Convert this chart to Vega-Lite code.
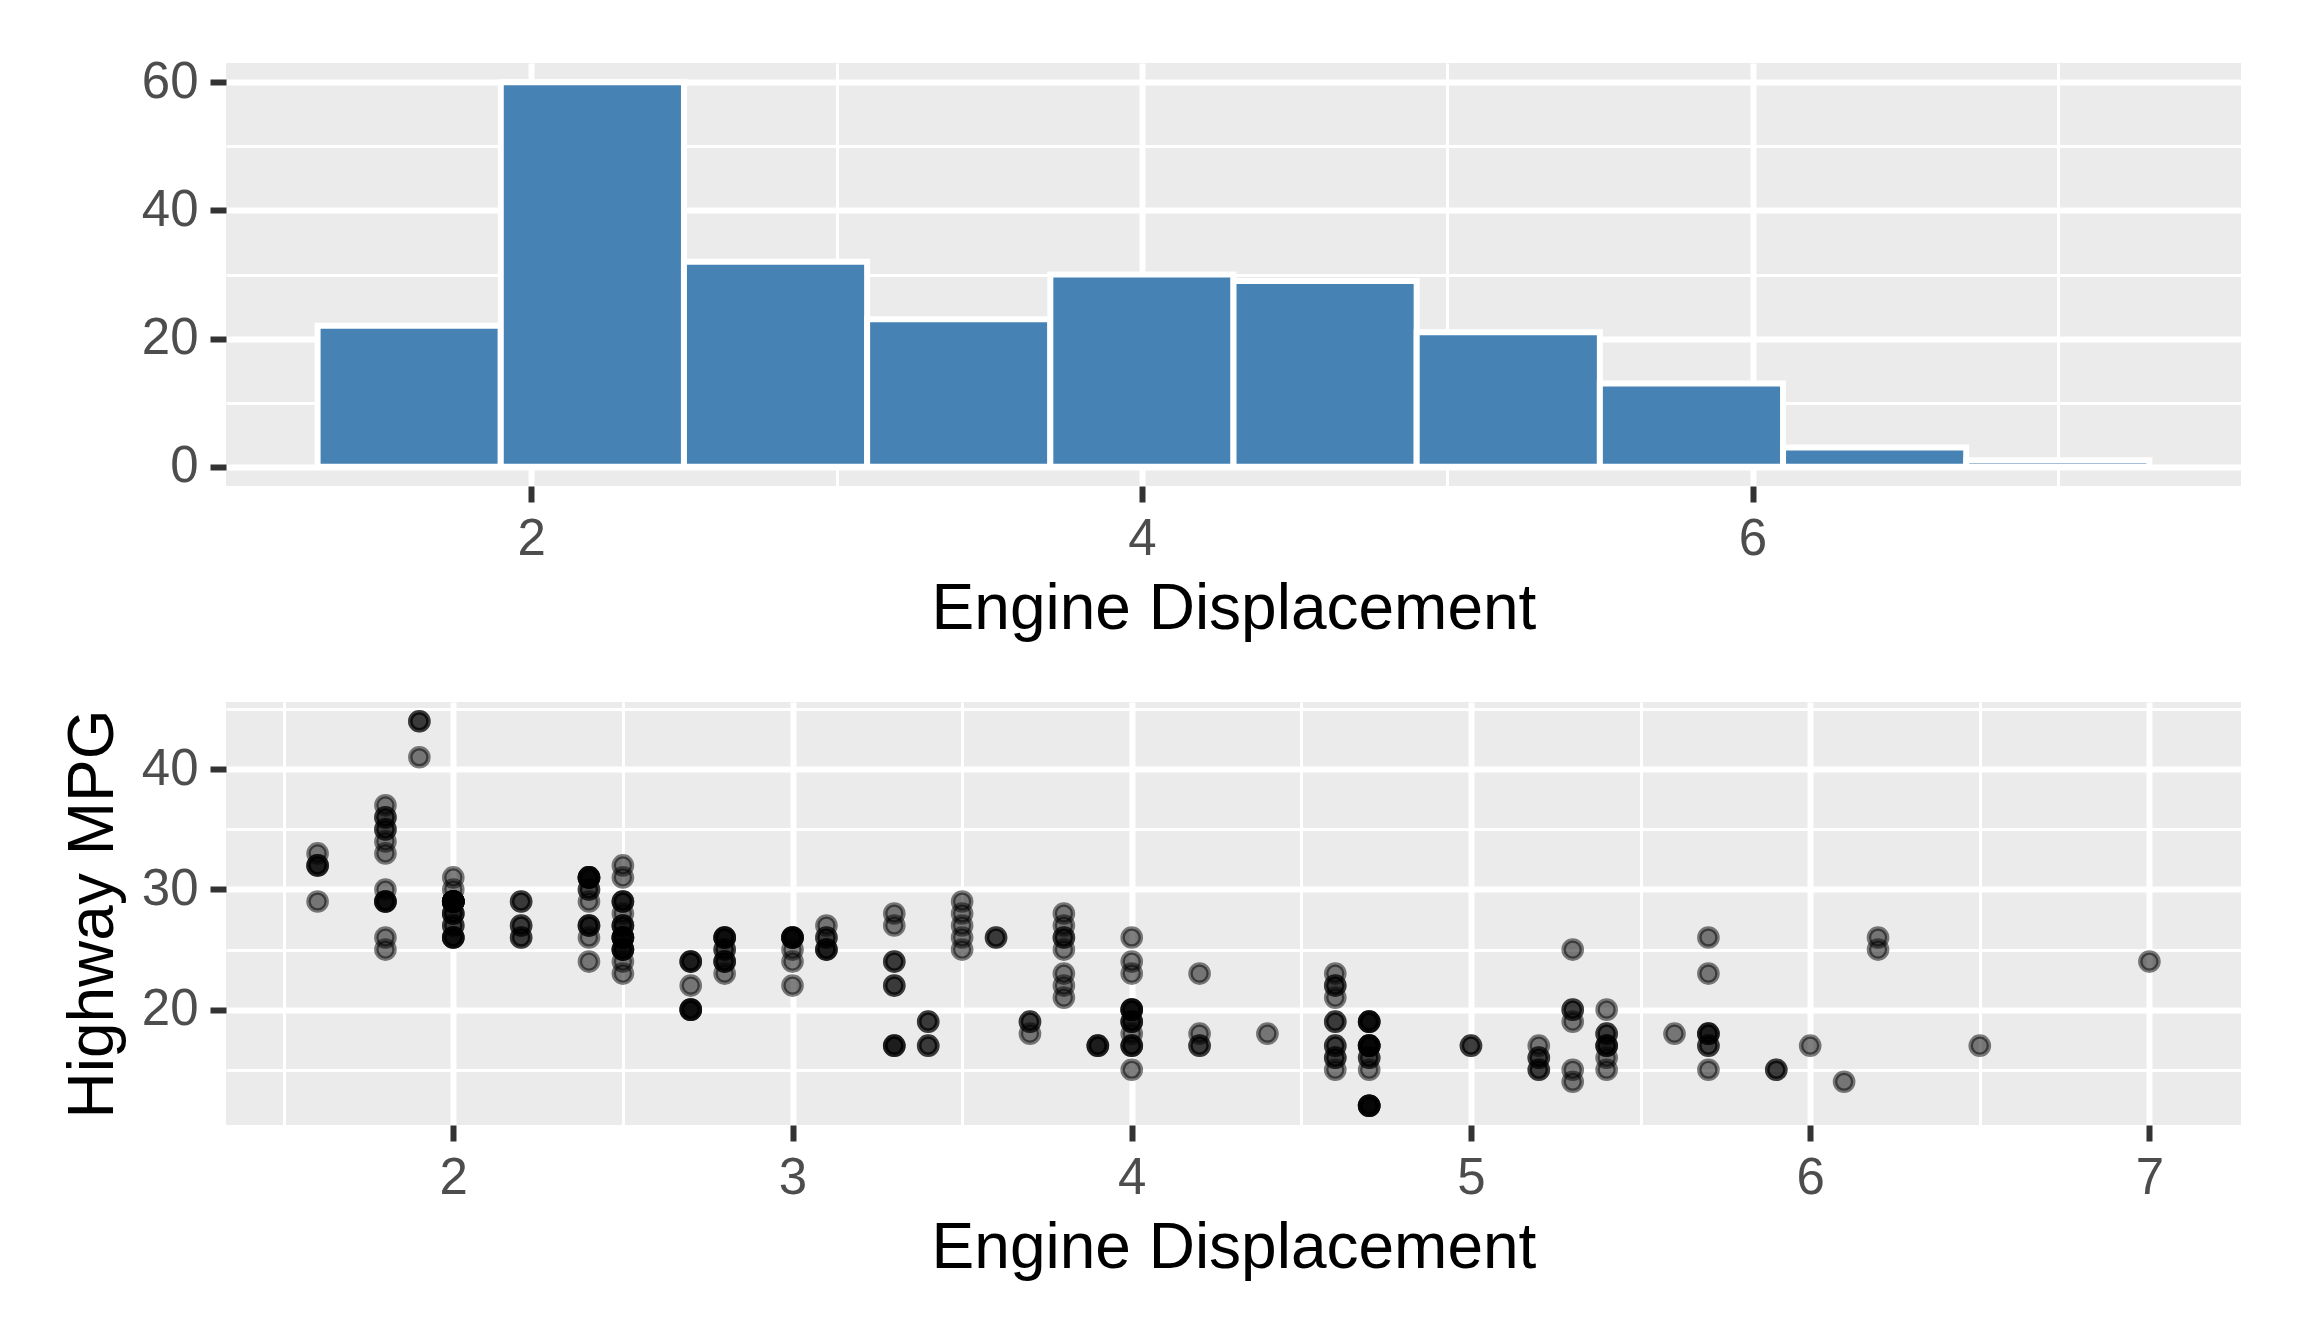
{
  "$schema": "https://vega.github.io/schema/vega-lite/v6.json",
  "background": "white",
  "padding": {"left": 61, "top": 56, "right": 64, "bottom": 64},
  "spacing": 42,
  "config": {
    "view": {"fill": "#EBEBEB", "stroke": null},
    "font": "Liberation Sans",
    "axis": {
      "domain": false,
      "labelFont": "Liberation Sans",
      "labelFontSize": 51,
      "labelColor": "#4D4D4D",
      "labelPadding": 12,
      "labelFlush": false,
      "labelOverlap": false,
      "titleFont": "Liberation Sans",
      "titleFontSize": 64,
      "titleFontWeight": "normal",
      "titleColor": "#000000",
      "tickSize": 16,
      "tickWidth": 6,
      "tickColor": "#333333",
      "gridColor": "#FFFFFF",
      "gridOpacity": 1
    },
    "axisX": {"titlePadding": 13},
    "axisY": {"titlePadding": 15.6}
  },
  "datasets": {
    "bins": [
      {"bin_start": 1.3, "bin_end": 1.9, "count": 22},
      {"bin_start": 1.9, "bin_end": 2.5, "count": 60},
      {"bin_start": 2.5, "bin_end": 3.1, "count": 32},
      {"bin_start": 3.1, "bin_end": 3.7, "count": 23},
      {"bin_start": 3.7, "bin_end": 4.3, "count": 30},
      {"bin_start": 4.3, "bin_end": 4.9, "count": 29},
      {"bin_start": 4.9, "bin_end": 5.5, "count": 21},
      {"bin_start": 5.5, "bin_end": 6.1, "count": 13},
      {"bin_start": 6.1, "bin_end": 6.7, "count": 3},
      {"bin_start": 6.7, "bin_end": 7.3, "count": 1}
    ],
    "mpg": [
      {"displ":1.8,"hwy":29},{"displ":1.8,"hwy":29},{"displ":2.0,"hwy":31},{"displ":2.0,"hwy":30},{"displ":2.8,"hwy":26},{"displ":2.8,"hwy":26},{"displ":3.1,"hwy":27},
      {"displ":1.8,"hwy":26},{"displ":1.8,"hwy":25},{"displ":2.0,"hwy":28},{"displ":2.0,"hwy":27},{"displ":2.8,"hwy":25},{"displ":2.8,"hwy":25},{"displ":3.1,"hwy":25},{"displ":3.1,"hwy":25},
      {"displ":2.8,"hwy":24},{"displ":3.1,"hwy":25},{"displ":4.2,"hwy":23},
      {"displ":5.3,"hwy":20},{"displ":5.3,"hwy":15},{"displ":5.3,"hwy":20},{"displ":5.7,"hwy":17},{"displ":6.0,"hwy":17},
      {"displ":5.7,"hwy":26},{"displ":5.7,"hwy":23},{"displ":6.2,"hwy":26},{"displ":6.2,"hwy":25},{"displ":7.0,"hwy":24},
      {"displ":5.3,"hwy":19},{"displ":5.3,"hwy":14},{"displ":5.7,"hwy":15},{"displ":6.5,"hwy":17},
      {"displ":2.4,"hwy":27},{"displ":2.4,"hwy":30},{"displ":3.1,"hwy":26},{"displ":3.5,"hwy":29},{"displ":3.6,"hwy":26},
      {"displ":2.4,"hwy":24},{"displ":3.0,"hwy":24},{"displ":3.3,"hwy":22},{"displ":3.3,"hwy":22},{"displ":3.3,"hwy":24},{"displ":3.3,"hwy":24},{"displ":3.3,"hwy":17},{"displ":3.8,"hwy":22},{"displ":3.8,"hwy":21},{"displ":3.8,"hwy":23},{"displ":4.0,"hwy":23},
      {"displ":3.7,"hwy":19},{"displ":3.7,"hwy":18},{"displ":3.9,"hwy":17},{"displ":3.9,"hwy":17},{"displ":4.7,"hwy":19},{"displ":4.7,"hwy":19},{"displ":4.7,"hwy":12},{"displ":5.2,"hwy":17},{"displ":5.2,"hwy":15},
      {"displ":3.9,"hwy":17},{"displ":4.7,"hwy":17},{"displ":4.7,"hwy":12},{"displ":4.7,"hwy":17},{"displ":5.2,"hwy":16},{"displ":5.7,"hwy":18},{"displ":5.9,"hwy":15},
      {"displ":4.7,"hwy":16},{"displ":4.7,"hwy":12},{"displ":4.7,"hwy":17},{"displ":4.7,"hwy":17},{"displ":4.7,"hwy":16},{"displ":4.7,"hwy":12},{"displ":5.2,"hwy":15},{"displ":5.2,"hwy":16},{"displ":5.7,"hwy":17},{"displ":5.9,"hwy":15},
      {"displ":4.6,"hwy":17},{"displ":5.4,"hwy":17},{"displ":5.4,"hwy":18},
      {"displ":4.0,"hwy":17},{"displ":4.0,"hwy":19},{"displ":4.0,"hwy":17},{"displ":4.0,"hwy":19},{"displ":4.6,"hwy":19},{"displ":5.0,"hwy":17},
      {"displ":4.2,"hwy":17},{"displ":4.2,"hwy":17},{"displ":4.6,"hwy":16},{"displ":4.6,"hwy":16},{"displ":4.6,"hwy":17},{"displ":5.4,"hwy":15},{"displ":5.4,"hwy":17},
      {"displ":3.8,"hwy":26},{"displ":3.8,"hwy":25},{"displ":4.0,"hwy":26},{"displ":4.0,"hwy":24},{"displ":4.6,"hwy":21},{"displ":4.6,"hwy":22},{"displ":4.6,"hwy":23},{"displ":4.6,"hwy":22},{"displ":5.4,"hwy":20},
      {"displ":1.6,"hwy":33},{"displ":1.6,"hwy":32},{"displ":1.6,"hwy":32},{"displ":1.6,"hwy":29},{"displ":1.6,"hwy":32},{"displ":1.8,"hwy":34},{"displ":1.8,"hwy":36},{"displ":1.8,"hwy":36},{"displ":2.0,"hwy":29},
      {"displ":2.4,"hwy":26},{"displ":2.4,"hwy":27},{"displ":2.4,"hwy":30},{"displ":2.4,"hwy":31},{"displ":2.5,"hwy":26},{"displ":2.5,"hwy":26},{"displ":3.3,"hwy":28},
      {"displ":2.0,"hwy":26},{"displ":2.0,"hwy":29},{"displ":2.0,"hwy":28},{"displ":2.0,"hwy":27},{"displ":2.7,"hwy":24},{"displ":2.7,"hwy":24},{"displ":2.7,"hwy":24},
      {"displ":3.0,"hwy":22},{"displ":3.7,"hwy":19},{"displ":4.0,"hwy":20},{"displ":4.7,"hwy":17},{"displ":4.7,"hwy":12},{"displ":4.7,"hwy":19},{"displ":5.7,"hwy":18},{"displ":6.1,"hwy":14},
      {"displ":4.0,"hwy":15},{"displ":4.2,"hwy":18},{"displ":4.4,"hwy":18},{"displ":4.6,"hwy":15},
      {"displ":5.4,"hwy":17},{"displ":5.4,"hwy":16},{"displ":5.4,"hwy":18},
      {"displ":4.0,"hwy":17},{"displ":4.0,"hwy":19},{"displ":4.6,"hwy":19},{"displ":5.0,"hwy":17},
      {"displ":2.4,"hwy":29},{"displ":2.4,"hwy":27},{"displ":2.5,"hwy":31},{"displ":2.5,"hwy":32},{"displ":3.5,"hwy":27},{"displ":3.5,"hwy":26},
      {"displ":3.0,"hwy":26},{"displ":3.0,"hwy":25},{"displ":3.5,"hwy":25},
      {"displ":3.3,"hwy":17},{"displ":3.3,"hwy":17},{"displ":4.0,"hwy":20},{"displ":5.6,"hwy":18},
      {"displ":3.1,"hwy":26},{"displ":3.8,"hwy":26},{"displ":3.8,"hwy":27},{"displ":3.8,"hwy":28},{"displ":5.3,"hwy":25},
      {"displ":2.5,"hwy":25},{"displ":2.5,"hwy":24},{"displ":2.5,"hwy":27},{"displ":2.5,"hwy":25},{"displ":2.5,"hwy":26},{"displ":2.5,"hwy":23},
      {"displ":2.2,"hwy":26},{"displ":2.2,"hwy":26},{"displ":2.5,"hwy":26},{"displ":2.5,"hwy":26},{"displ":2.5,"hwy":25},{"displ":2.5,"hwy":27},{"displ":2.5,"hwy":25},{"displ":2.5,"hwy":27},
      {"displ":2.7,"hwy":20},{"displ":2.7,"hwy":20},{"displ":3.4,"hwy":19},{"displ":3.4,"hwy":17},{"displ":4.0,"hwy":20},{"displ":4.7,"hwy":19},
      {"displ":2.2,"hwy":29},{"displ":2.2,"hwy":27},{"displ":2.4,"hwy":31},{"displ":2.4,"hwy":31},{"displ":3.0,"hwy":26},{"displ":3.0,"hwy":26},{"displ":3.5,"hwy":28},
      {"displ":2.2,"hwy":27},{"displ":2.2,"hwy":29},{"displ":2.4,"hwy":31},{"displ":2.4,"hwy":31},{"displ":3.0,"hwy":26},{"displ":3.0,"hwy":26},{"displ":3.3,"hwy":27},
      {"displ":1.8,"hwy":30},{"displ":1.8,"hwy":33},{"displ":1.8,"hwy":35},{"displ":1.8,"hwy":37},{"displ":1.8,"hwy":35},
      {"displ":4.7,"hwy":15},{"displ":5.7,"hwy":18},
      {"displ":2.7,"hwy":20},{"displ":2.7,"hwy":20},{"displ":2.7,"hwy":22},{"displ":3.4,"hwy":17},{"displ":3.4,"hwy":19},{"displ":4.0,"hwy":18},{"displ":4.0,"hwy":20},
      {"displ":2.0,"hwy":29},{"displ":2.0,"hwy":26},{"displ":2.0,"hwy":29},{"displ":2.0,"hwy":29},{"displ":2.8,"hwy":24},
      {"displ":1.9,"hwy":44},{"displ":2.0,"hwy":29},{"displ":2.0,"hwy":26},{"displ":2.0,"hwy":29},{"displ":2.0,"hwy":29},{"displ":2.5,"hwy":29},{"displ":2.5,"hwy":29},{"displ":2.8,"hwy":23},{"displ":2.8,"hwy":24},
      {"displ":1.9,"hwy":44},{"displ":1.9,"hwy":41},{"displ":2.0,"hwy":29},{"displ":2.0,"hwy":26},{"displ":2.5,"hwy":28},{"displ":2.5,"hwy":29},
      {"displ":1.8,"hwy":29},{"displ":1.8,"hwy":29},{"displ":2.0,"hwy":28},{"displ":2.0,"hwy":29},{"displ":2.8,"hwy":26},{"displ":2.8,"hwy":26},{"displ":3.6,"hwy":26}
    ]
  },
  "vconcat": [
    {
      "width": 2015,
      "height": 423,
      "data": {"name": "bins"},
      "mark": {"type": "bar", "fill": "#4682B4", "stroke": "#FFFFFF", "strokeWidth": 6},
      "encoding": {
        "x": {
          "field": "bin_start",
          "type": "quantitative",
          "scale": {"domain": [1.0, 7.6], "nice": false, "zero": false},
          "axis": {
            "title": "Engine Displacement",
            "values": [2, 3, 4, 5, 6, 7],
            "format": "d",
            "labelExpr": "datum.value % 2 === 0 ? datum.label : ''",
            "gridWidth": {"condition": {"test": "datum.value % 2 === 0", "value": 6}, "value": 3},
            "tickOpacity": {"condition": {"test": "datum.value % 2 === 0", "value": 1}, "value": 0}
          }
        },
        "x2": {"field": "bin_end"},
        "y": {
          "field": "count",
          "type": "quantitative",
          "scale": {"domain": [-3, 63], "nice": false, "zero": false},
          "axis": {
            "title": " ",
            "values": [0, 10, 20, 30, 40, 50, 60],
            "format": "d",
            "labelExpr": "datum.value % 20 === 0 ? datum.label : ''",
            "gridWidth": {"condition": {"test": "datum.value % 20 === 0", "value": 6}, "value": 3},
            "tickOpacity": {"condition": {"test": "datum.value % 20 === 0", "value": 1}, "value": 0}
          }
        },
        "y2": {"datum": 0}
      }
    },
    {
      "width": 2015,
      "height": 423,
      "data": {"name": "mpg"},
      "mark": {
        "type": "point",
        "shape": "circle",
        "filled": true,
        "size": 330,
        "strokeWidth": 4.5,
        "opacity": 1,
        "fillOpacity": 0.5,
        "strokeOpacity": 0.5
      },
      "encoding": {
        "x": {
          "field": "displ",
          "type": "quantitative",
          "scale": {"domain": [1.33, 7.27], "nice": false, "zero": false},
          "axis": {
            "title": "Engine Displacement",
            "values": [1.5, 2, 2.5, 3, 3.5, 4, 4.5, 5, 5.5, 6, 6.5, 7],
            "labelExpr": "datum.value % 1 === 0 ? format(datum.value, 'd') : ''",
            "gridWidth": {"condition": {"test": "datum.value % 1 === 0", "value": 6}, "value": 3},
            "tickOpacity": {"condition": {"test": "datum.value % 1 === 0", "value": 1}, "value": 0}
          }
        },
        "y": {
          "field": "hwy",
          "type": "quantitative",
          "scale": {"domain": [10.4, 45.6], "nice": false, "zero": false},
          "axis": {
            "title": "Highway MPG",
            "values": [15, 20, 25, 30, 35, 40, 45],
            "format": "d",
            "labelExpr": "datum.value % 10 === 0 ? datum.label : ''",
            "gridWidth": {"condition": {"test": "datum.value % 10 === 0", "value": 6}, "value": 3},
            "tickOpacity": {"condition": {"test": "datum.value % 10 === 0", "value": 1}, "value": 0}
          }
        },
        "fill": {"value": "#000000"},
        "stroke": {"value": "#000000"}
      }
    }
  ]
}
